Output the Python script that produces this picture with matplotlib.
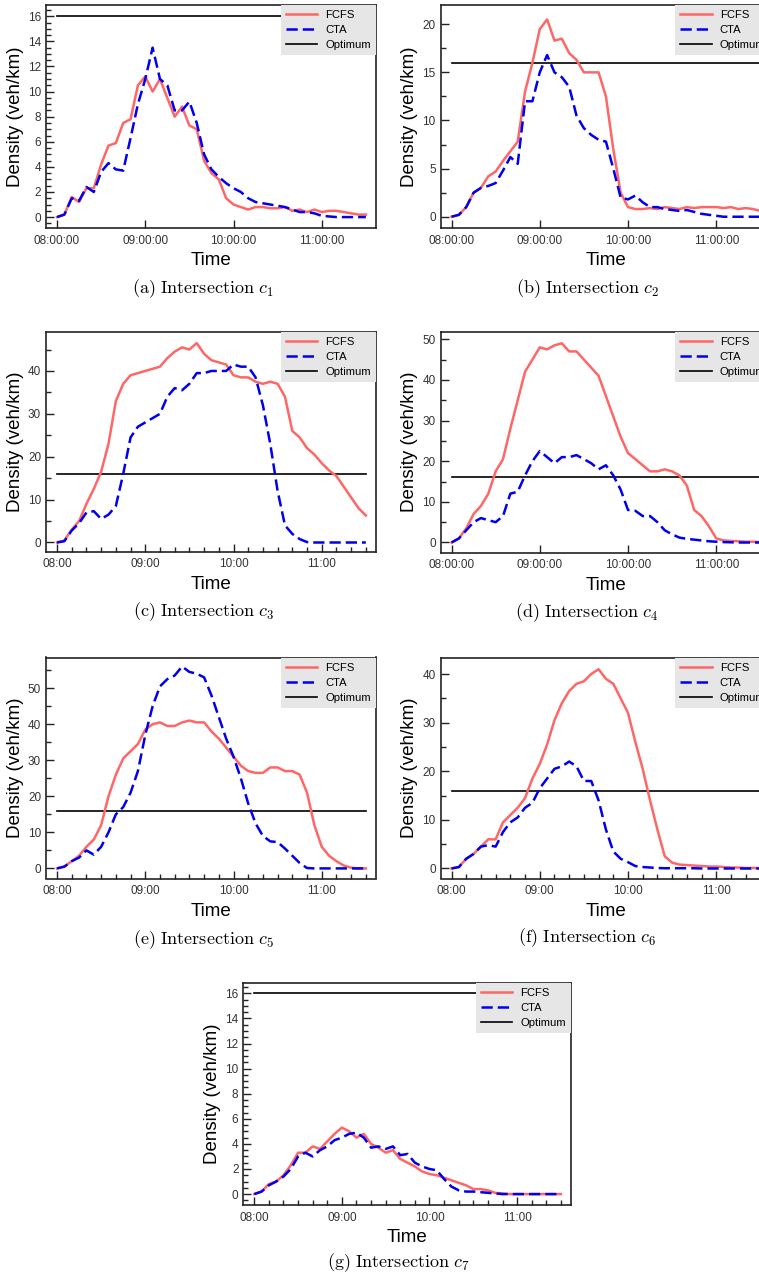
import numpy as np
import matplotlib
matplotlib.use("Agg")
import matplotlib.pyplot as plt
from matplotlib.ticker import MultipleLocator, FixedLocator, FixedFormatter

plt.rcParams["font.family"] = ["Liberation Sans", "DejaVu Sans"]
plt.rcParams["mathtext.fontset"] = "cm"

# time axis: every 5 minutes from 08:00 to 11:30, in hours
minutes = np.arange(0, 211, 5)
hours = 8 + minutes / 60.0

OPTIMUM = 16

fcfs_c1 = [0, 0.2, 1.6, 1.2, 2.3, 2.3, 4.2, 5.7, 5.9, 7.5, 7.8, 10.5, 11.2, 10.0, 11.0, 9.5,
           8.0, 8.8, 7.3, 7.0, 4.5, 3.5, 3.0, 1.5, 1.0, 0.8, 0.6, 0.8, 0.8, 0.7, 0.7, 0.8,
           0.5, 0.6, 0.4, 0.6, 0.4, 0.5, 0.5, 0.4, 0.3, 0.2, 0.2]
cta_c1 = [0, 0.2, 1.5, 1.3, 2.4, 2.0, 3.6, 4.3, 3.8, 3.7, 6.3, 9.0, 11.0, 13.5, 11.0, 10.5,
          8.5, 8.5, 9.2, 7.5, 5.0, 3.8, 3.2, 2.7, 2.3, 2.0, 1.5, 1.2, 1.1, 1.0, 0.9, 0.8,
          0.6, 0.4, 0.4, 0.3, 0.1, 0.05, 0, 0, 0, 0, 0]

fcfs_c2 = [0, 0.2, 1.0, 2.5, 3.0, 4.2, 4.7, 5.8, 6.8, 7.8, 13.0, 16.0, 19.5, 20.5, 18.3, 18.5,
           17.0, 16.3, 15.0, 15.0, 15.0, 12.5, 7.0, 2.5, 1.0, 0.8, 0.8, 0.9, 0.8, 1.0, 0.9, 0.8,
           1.0, 0.9, 1.0, 1.0, 1.0, 0.9, 1.0, 0.8, 0.9, 0.8, 0.6]
cta_c2 = [0, 0.2, 1.0, 2.5, 3.0, 3.2, 3.5, 4.8, 6.2, 5.5, 12.0, 12.0, 15.0, 16.8, 15.0, 14.5,
          13.5, 10.5, 9.2, 8.5, 8.0, 7.8, 5.0, 2.0, 1.8, 2.2, 1.5, 1.0, 1.0, 0.8, 0.7, 0.6,
          0.7, 0.5, 0.3, 0.2, 0.1, 0, 0, 0, 0, 0, 0]

fcfs_c3 = [0, 0.5, 3.0, 5.0, 9.0, 12.5, 16.5, 23.0, 33.0, 37.0, 39.0, 39.5, 40.0, 40.5, 41.0, 43.0,
           44.5, 45.5, 45.0, 46.5, 44.0, 42.5, 42.0, 41.5, 39.0, 38.5, 38.5, 37.5, 37.0, 37.5, 37.0, 34.0,
           26.0, 24.5, 22.0, 20.5, 18.5, 16.8, 15.5, 13.0, 10.5, 8.0, 6.3]
cta_c3 = [0, 0.3, 2.8, 4.5, 7.0, 7.3, 5.5, 6.5, 8.5, 16.0, 24.5, 27.0, 28.0, 29.0, 30.0, 34.0,
          36.0, 35.5, 37.0, 39.5, 39.5, 40.0, 40.0, 40.0, 41.5, 41.0, 41.0, 38.5, 32.0, 23.0, 12.0, 4.0,
          2.0, 0.8, 0.1, 0, 0, 0, 0, 0, 0, 0, 0]

fcfs_c4 = [0, 1.0, 3.5, 7.0, 9.0, 12.0, 17.5, 20.5, 28.0, 35.0, 42.0, 45.0, 48.0, 47.5, 48.5, 49.0,
           47.0, 47.0, 45.0, 43.0, 41.0, 36.0, 31.0, 26.0, 22.0, 20.5, 19.0, 17.5, 17.5, 18.0, 17.5, 16.5,
           14.0, 8.0, 6.5, 4.0, 1.0, 0.5, 0.4, 0.3, 0.2, 0.2, 0.1]
cta_c4 = [0, 1.0, 3.0, 5.0, 6.0, 5.5, 5.0, 6.5, 12.0, 12.5, 16.5, 20.0, 22.5, 21.0, 19.5, 21.0,
          21.0, 21.5, 20.5, 19.5, 18.0, 19.0, 16.5, 13.0, 8.0, 7.8, 6.5, 6.5, 5.0, 3.0, 2.0, 1.2,
          0.9, 0.7, 0.5, 0.3, 0.2, 0.1, 0.05, 0, 0, 0, 0]

fcfs_c5 = [0, 0.5, 2.0, 3.5, 6.0, 8.0, 12.0, 20.0, 26.0, 30.5, 32.5, 34.5, 38.5, 40.0, 40.5, 39.5,
           39.5, 40.5, 41.0, 40.5, 40.5, 38.0, 36.0, 33.5, 31.0, 28.5, 27.0, 26.5, 26.5, 28.0, 28.0, 27.0,
           27.0, 26.0, 21.0, 12.0, 6.0, 3.5, 2.0, 0.8, 0.2, 0, 0]
cta_c5 = [0, 0.5, 2.0, 3.0, 5.0, 3.8, 6.0, 10.0, 15.0, 17.0, 21.0, 27.0, 37.0, 45.0, 50.5, 52.5,
          53.5, 56.0, 54.5, 54.0, 53.0, 48.0, 42.0, 36.0, 31.0, 25.0, 18.0, 12.5, 9.0, 7.5, 7.3, 5.5,
          3.5, 1.5, 0.1, 0, 0, 0, 0, 0, 0, 0, 0]

fcfs_c6 = [0, 0.3, 2.0, 3.0, 4.5, 6.0, 6.0, 9.5, 11.0, 12.5, 14.5, 18.5, 21.5, 25.5, 30.5, 34.0,
           36.5, 38.0, 38.5, 40.0, 41.0, 39.0, 38.0, 35.0, 32.0, 26.0, 20.5, 14.0, 8.0, 2.5, 1.2, 0.8,
           0.7, 0.6, 0.5, 0.4, 0.4, 0.3, 0.2, 0.2, 0.1, 0.1, 0.1]
cta_c6 = [0, 0.3, 2.0, 3.0, 4.5, 4.8, 4.5, 7.5, 9.5, 10.5, 12.5, 13.5, 16.5, 18.5, 20.5, 21.0,
          22.0, 21.0, 18.0, 18.0, 14.0, 8.0, 3.5, 2.0, 1.3, 0.5, 0.3, 0.2, 0.1, 0.05, 0.05, 0.05,
          0.05, 0.05, 0, 0, 0, 0, 0, 0, 0, 0, 0]

fcfs_c7 = [0, 0.2, 0.8, 1.0, 1.5, 2.3, 3.3, 3.3, 3.8, 3.6, 4.2, 4.8, 5.3, 5.0, 4.5, 4.8,
           4.0, 3.7, 3.3, 3.5, 2.8, 2.5, 2.2, 1.8, 1.6, 1.5, 1.3, 1.1, 0.9, 0.7, 0.4, 0.4,
           0.3, 0.1, 0.05, 0, 0, 0, 0, 0, 0, 0, 0]
cta_c7 = [0, 0.2, 0.7, 1.0, 1.4, 2.0, 3.0, 3.3, 3.0, 3.5, 3.8, 4.3, 4.5, 4.8, 4.9, 4.5,
          3.7, 3.8, 3.6, 3.8, 3.1, 3.2, 2.5, 2.2, 2.0, 1.9, 1.2, 0.6, 0.3, 0.2, 0.2, 0.15,
          0.1, 0.05, 0, 0, 0, 0, 0, 0, 0, 0, 0]

hour_ticks = [8, 9, 10, 11]
labels_hms = ["08:00:00", "09:00:00", "10:00:00", "11:00:00"]
labels_hm = ["08:00", "09:00", "10:00", "11:00"]

W, H = 759, 1276

# name, index, fcfs, cta, ylim, y step, x labels, x minor ticks, box px (l, t, r, b), caption px
panels = [
    ("a", 1, fcfs_c1, cta_c1, (-0.87, 16.9), 2, labels_hms, False, (46, 5, 376, 228), (203, 289)),
    ("b", 2, fcfs_c2, cta_c2, (-1.17, 22.0), 5, labels_hms, False, (440.5, 5, 770.5, 228), (587, 289)),
    ("c", 3, fcfs_c3, cta_c3, (-2.1, 49.2), 10, labels_hm, True, (46, 331.5, 376, 551.5), (203, 612)),
    ("d", 4, fcfs_c4, cta_c4, (-2.46, 51.9), 10, labels_hms, False, (440.5, 331.5, 770.5, 552.5), (587, 613)),
    ("e", 5, fcfs_c5, cta_c5, (-2.8, 58.5), 10, labels_hm, True, (46, 657.5, 376, 878.5), (203, 940)),
    ("f", 6, fcfs_c6, cta_c6, (-2.06, 43.4), 10, labels_hm, True, (440.5, 657.5, 770.5, 878.5), (587, 938)),
    ("g", 7, fcfs_c7, cta_c7, (-0.87, 16.85), 2, labels_hm, True, (243.3, 982.7, 571, 1205), (398, 1263)),
]

fig = plt.figure(figsize=(W / 100, H / 100), dpi=100)

for name, idx, fcfs, cta, ylim, ystep, xlabels, xminor, box, cap in panels:
    l, t, r, b = box
    ax = fig.add_axes([l / W, 1 - b / H, (r - l) / W, (b - t) / H])
    ax.plot(hours, fcfs, color="#ff6666", lw=1.8, label="FCFS", zorder=3)
    ax.plot(hours, cta, color="#0000ee", lw=1.8, ls=(0, (4.5, 2.0)), label="CTA", zorder=4)
    ax.plot([hours[0], hours[-1]], [OPTIMUM, OPTIMUM], color="black", lw=1.2,
            label="Optimum", zorder=2)

    ax.set_xlim(7.875, 11.615)
    ax.xaxis.set_major_locator(FixedLocator(hour_ticks))
    ax.xaxis.set_major_formatter(FixedFormatter(xlabels))
    if xminor:
        ax.xaxis.set_minor_locator(MultipleLocator(1 / 6))
    ax.yaxis.set_major_locator(MultipleLocator(ystep))
    ax.yaxis.set_minor_locator(MultipleLocator(ystep / 4 if ystep == 2 else ystep / 2))
    ax.set_ylim(*ylim)

    ax.tick_params(which="both", direction="in", labelsize=8.5, labelcolor="#333333",
                   color="#222222", width=1.0)
    ax.tick_params(which="major", length=6)
    ax.tick_params(which="minor", length=3.5)
    ax.tick_params(axis="x", pad=5)
    for sp in ax.spines.values():
        sp.set_linewidth(1.2)
        sp.set_color("#222222")

    ax.set_xlabel("Time", fontsize=13.5, labelpad=4)
    ax.set_ylabel("Density (veh/km)", fontsize=13.5, labelpad=3)

    leg = ax.legend(loc="upper right", borderaxespad=0, fontsize=8.1, frameon=True,
                    fancybox=False, facecolor="#e6e6e6", edgecolor="none", framealpha=1,
                    handlelength=2.8, handletextpad=0.7, labelspacing=0.45, borderpad=0.45)
    leg.set_zorder(10)

    fig.text(cap[0] / W, 1 - cap[1] / H,
             r"$\mathrm{(%s)\ Intersection}\ c_{%d}$" % (name, idx),
             ha="center", va="center", fontsize=13)

fig.savefig("out.png", dpi=100)
